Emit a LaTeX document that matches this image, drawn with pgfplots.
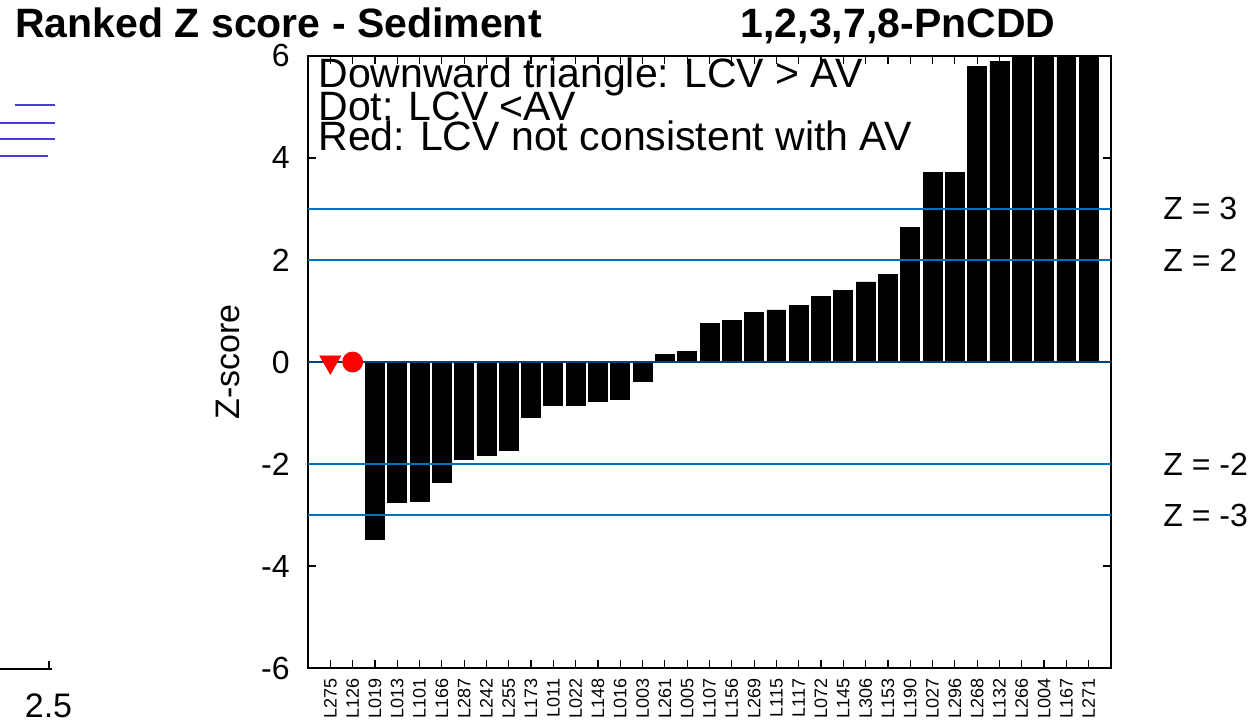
\documentclass[border=0pt]{standalone}
\usepackage{fontspec}
\setmainfont{Liberation Sans}
\usepackage{pgfplots}
\pgfplotsset{compat=1.18}
\definecolor{zblue}{RGB}{0,114,189}
\definecolor{strayblue}{RGB}{70,60,215}

\begin{document}
\begin{tikzpicture}
\begin{axis}[
    at={(0,0)}, anchor=south west,
    scale only axis, width=401.5pt, height=306pt,
    xmin=0, xmax=36, ymin=-6, ymax=6,
    clip mode=individual,
    ytick={-6,-4,...,6},
    xtick={1,...,35},
    xticklabels={L275,L126,L019,L013,L101,L166,L287,L242,L255,L173,L011,L022,L148,L016,L003,L261,L005,L107,L156,L269,L115,L117,L072,L145,L306,L153,L190,L027,L296,L268,L132,L266,L004,L167,L271},
    /pgf/number format/assume math mode=true,
    tick align=inside, major tick length=4pt,
    xtick pos=both, ytick pos=both,
    tick style={black, line width=0.6pt},
    axis line style={line width=0.8pt},
    xticklabel shift=5pt, yticklabel shift=9pt,
    x tick label style={rotate=90, anchor=east, inner sep=0pt, font=\fontsize{9}{9}\selectfont},
    y tick label style={inner sep=0pt, font=\fontsize{16}{16}\selectfont},
    ylabel={Z-score},
    ylabel style={at={(axis description cs:-0.1,0.5)}, anchor=center, font=\fontsize{17}{17}\selectfont},
]

% ranked z-scores, categories 3..35 (first two have no bar)
\addplot[ybar, bar width=0.85, fill=black, draw=black] coordinates {
    (3,-3.47) (4,-2.76) (5,-2.74) (6,-2.37) (7,-1.91) (8,-1.83) (9,-1.74)
    (10,-1.08) (11,-0.85) (12,-0.85) (13,-0.77) (14,-0.73) (15,-0.38)
    (16,0.15) (17,0.20) (18,0.76) (19,0.82) (20,0.98) (21,1.02) (22,1.10)
    (23,1.29) (24,1.41) (25,1.57) (26,1.72) (27,2.63) (28,3.72) (29,3.72)
    (30,5.80) (31,5.90) (32,6.3) (33,6.8) (34,7.4) (35,8.1)
};

\addplot[zblue, line width=1pt] coordinates {(0,3) (36,3)};
\addplot[zblue, line width=1pt] coordinates {(0,2) (36,2)};
\addplot[zblue, line width=1pt] coordinates {(0,-2) (36,-2)};
\addplot[zblue, line width=1pt] coordinates {(0,-3) (36,-3)};
\addplot[zblue!60!black, line width=1pt] coordinates {(0,0) (36,0)};

\addplot[only marks, mark=triangle*, mark size=6pt, red,
    mark options={rotate=180, fill=red, draw=red}] coordinates {(1,0)};
\addplot[only marks, mark=*, mark size=5pt, red,
    mark options={fill=red, draw=red}] coordinates {(2,0)};

\node[anchor=base west, inner sep=0pt, font=\fontsize{20.5}{20}\selectfont]
    at (rel axis cs:0.0125,0.948) {Downward triangle: LCV > AV};
\node[anchor=base west, inner sep=0pt, font=\fontsize{20.5}{20}\selectfont]
    at (rel axis cs:0.0125,0.895) {Dot: LCV <AV};
\node[anchor=base west, inner sep=0pt, font=\fontsize{20.5}{20}\selectfont]
    at (rel axis cs:0.0125,0.846) {Red: LCV not consistent with AV};

\node[anchor=west, inner sep=0pt, xshift=26pt, font=\fontsize{16}{16}\selectfont] at (axis cs:36,3) {Z = 3};
\node[anchor=west, inner sep=0pt, xshift=26pt, font=\fontsize{16}{16}\selectfont] at (axis cs:36,2) {Z = 2};
\node[anchor=west, inner sep=0pt, xshift=26pt, font=\fontsize{16}{16}\selectfont] at (axis cs:36,-2) {Z = -2};
\node[anchor=west, inner sep=0pt, xshift=26pt, font=\fontsize{16}{16}\selectfont] at (axis cs:36,-3) {Z = -3};
\end{axis}

% titles
\node[anchor=base west, inner sep=0pt, font=\fontsize{20.5}{21}\selectfont\bfseries]
    at (-146.5pt,315pt) {Ranked Z score - Sediment};
\node[anchor=base, inner sep=0pt, font=\fontsize{20.5}{21}\selectfont\bfseries]
    at (295pt,315pt) {1,2,3,7,8-PnCDD};

% fragments of the neighbouring panel on the left
\draw[strayblue, line width=1pt] (-146.5pt,281.5pt) -- (-126.5pt,281.5pt);
\draw[strayblue, line width=1pt] (-154pt,272.5pt) -- (-126.5pt,272.5pt);
\draw[strayblue, line width=1pt] (-154pt,264.5pt) -- (-126.5pt,264.5pt);
\draw[strayblue, line width=1pt] (-154pt,256pt) -- (-130pt,256pt);
\draw[black, line width=0.8pt] (-154pt,-0.5pt) -- (-128pt,-0.5pt);
\draw[black, line width=0.6pt] (-129.5pt,-0.5pt) -- (-129.5pt,3.5pt);
\node[font=\fontsize{17}{17}\selectfont, inner sep=0pt] at (-129.75pt,-19pt) {2.5};

\pgfresetboundingbox
\path[use as bounding box] (-154pt,-27pt) rectangle (475.5pt,334pt);
\end{tikzpicture}
\end{document}
